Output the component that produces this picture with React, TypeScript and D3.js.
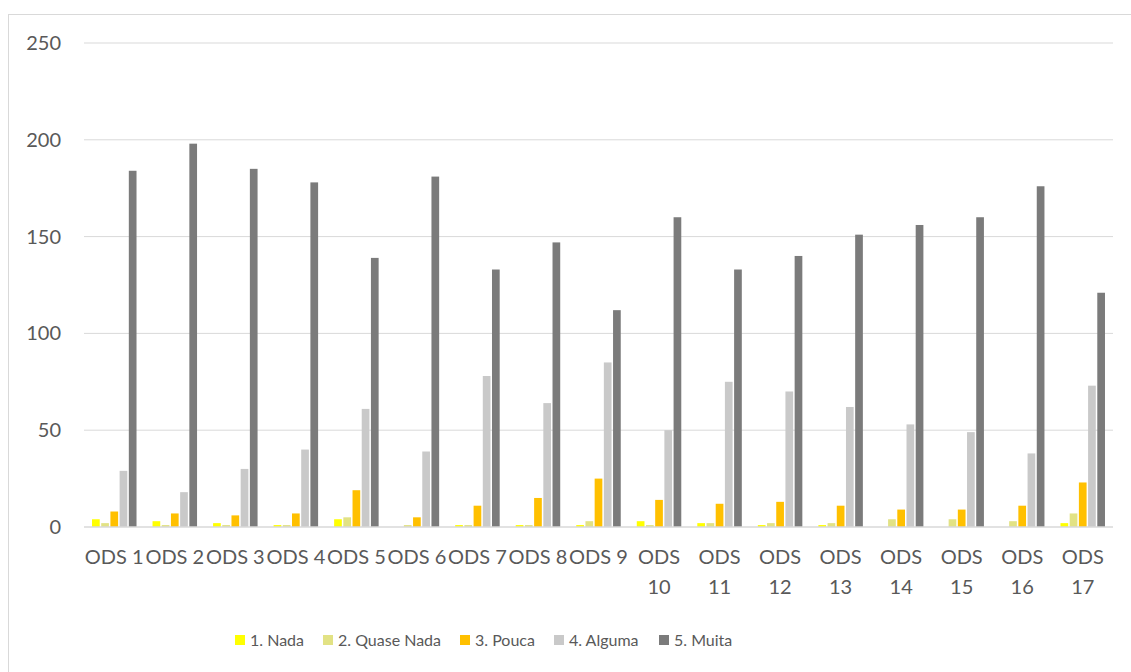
import React from "react";
import * as d3 from "d3";

const categories = ["ODS 1","ODS 2","ODS 3","ODS 4","ODS 5","ODS 6","ODS 7","ODS 8","ODS 9","ODS 10","ODS 11","ODS 12","ODS 13","ODS 14","ODS 15","ODS 16","ODS 17"];
const seriesNames = ["1. Nada","2. Quase Nada","3. Pouca","4. Alguma","5. Muita"];
const seriesColors = ["#FFFF00","#E2E284","#FFC000","#C9C9C9","#7B7B7B"];
const nada =       [4, 3, 2, 1, 4, 0, 1, 1, 1, 3, 2, 1, 1, 0, 0, 0, 2];
const quaseNada =  [2, 1, 1, 1, 5, 1, 1, 1, 3, 1, 2, 2, 2, 4, 4, 3, 7];
const pouca =      [8, 7, 6, 7, 19, 5, 11, 15, 25, 14, 12, 13, 11, 9, 9, 11, 23];
const alguma =     [29, 18, 30, 40, 61, 39, 78, 64, 85, 50, 75, 70, 62, 53, 49, 38, 73];
const muita =      [184, 198, 185, 178, 139, 181, 133, 147, 112, 160, 133, 140, 151, 156, 160, 176, 121];
const seriesValues = [nada, quaseNada, pouca, alguma, muita];
const yTicks = [0, 50, 100, 150, 200, 250];

const W = 1131, H = 672;
const plotLeft = 84, plotRight = 1113, plotTop = 43, plotBottom = 527;
const font = "Lato, 'Open Sans', sans-serif";
const textColor = "#595959";
const axisFontSize = 20;
const legendFontSize = 16;

export default function App() {
  const x = d3.scaleBand<string>().domain(categories).range([plotLeft, plotRight]).padding(0);
  const y = d3.scaleLinear().domain([0, 250]).range([plotBottom, plotTop]);
  const clusterW = 46;
  const inner = d3.scaleBand<number>().domain(d3.range(seriesNames.length)).range([0, clusterW]).padding(0);

  const legendX = [235, 323, 460, 554, 659];

  return (
    <svg width={W} height={H} style={{ display: "block", position: "absolute", left: 0, top: 0 }}>
      <rect x={0} y={0} width={W} height={H} fill="#fff" />
      <rect x={8.5} y={14.5} width={1140} height={700} fill="#fff" stroke="#D9D9D9" strokeWidth={1} />
      {yTicks.map((t) => (
        <g key={t}>
          {t > 0 && (
            <line x1={plotLeft} x2={plotRight} y1={y(t)} y2={y(t)} stroke="#D9D9D9" strokeWidth={1} />
          )}
          <text x={61} y={y(t)} dy="0.35em" textAnchor="end" fontFamily={font} fontSize={axisFontSize} fill={textColor}>
            {t}
          </text>
        </g>
      ))}
      {categories.map((c, ci) => {
        const x0 = (x(c) as number) + x.bandwidth() / 2 - clusterW / 2;
        return (
          <g key={c}>
            {seriesValues.map((vals, si) => (
              <rect
                key={si}
                x={x0 + (inner(si) as number) + 0.75}
                y={y(vals[ci])}
                width={inner.bandwidth() - 1.5}
                height={plotBottom - y(vals[ci])}
                fill={seriesColors[si]}
              />
            ))}
          </g>
        );
      })}
      <line x1={plotLeft} x2={plotRight} y1={plotBottom} y2={plotBottom} stroke="#D9D9D9" strokeWidth={1.5} />
      {categories.map((c) => {
        const cx = (x(c) as number) + x.bandwidth() / 2;
        const num = parseInt(c.split(" ")[1], 10);
        if (num < 10) {
          return (
            <text key={c} x={cx} y={557} dy="0.35em" textAnchor="middle" fontFamily={font} fontSize={axisFontSize} fill={textColor}>
              {c}
            </text>
          );
        }
        const parts = c.split(" ");
        return (
          <text key={c} x={cx} textAnchor="middle" fontFamily={font} fontSize={axisFontSize} fill={textColor}>
            <tspan x={cx} y={557} dy="0.35em">{parts[0]}</tspan>
            <tspan x={cx} y={587} dy="0.35em">{parts[1]}</tspan>
          </text>
        );
      })}
      {seriesNames.map((n, i) => (
        <g key={n}>
          <rect x={legendX[i]} y={635} width={10} height={10} fill={seriesColors[i]} />
          <text x={legendX[i] + 15} y={640} dy="0.35em" fontFamily={font} fontSize={legendFontSize} fill={textColor}>
            {n}
          </text>
        </g>
      ))}
    </svg>
  );
}
